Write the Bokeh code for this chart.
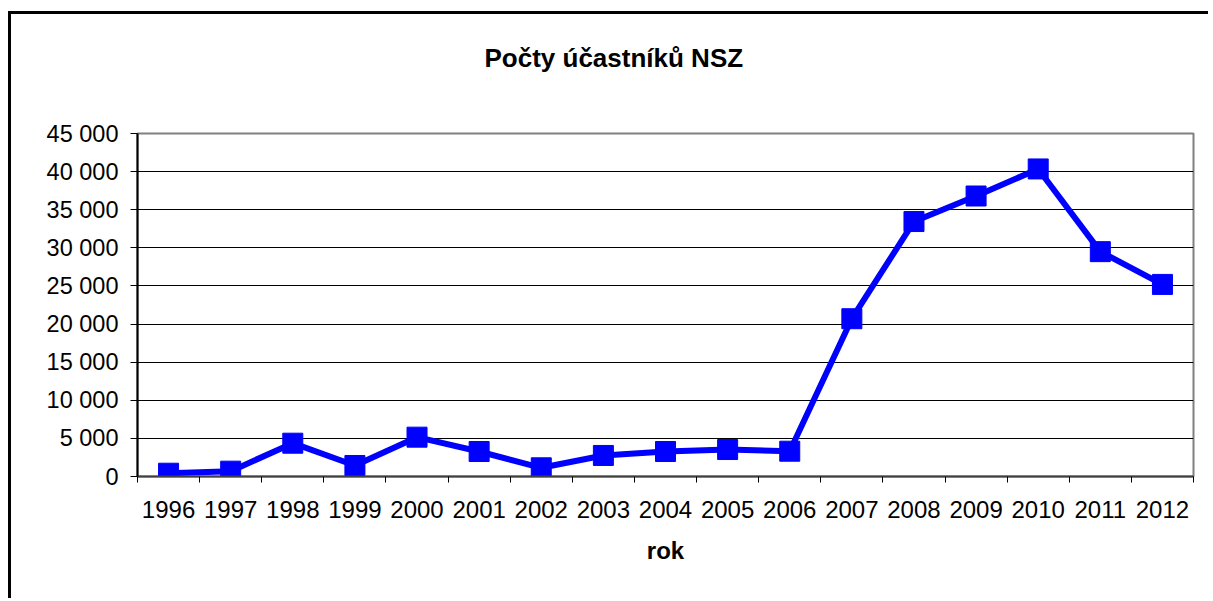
import numpy as np
from bokeh.plotting import figure
from bokeh.models import Range1d, FixedTicker, Title
from bokeh.embed import file_html
from bokeh.resources import INLINE

years = [1996, 1997, 1998, 1999, 2000, 2001, 2002, 2003, 2004, 2005, 2006,
         2007, 2008, 2009, 2010, 2011, 2012]
participants = [430, 700, 4370, 1440, 5160, 3280, 1140, 2760, 3280, 3540, 3320,
                20700, 33450, 36800, 40350, 29500, 25200]
y_ticks = list(range(0, 45001, 5000))
title_text = "Počty účastníků NSZ"
x_title = "rok"

FONT = "Liberation Sans"

n = len(years)
xs = np.arange(n) + 0.5

p = figure(width=1200, height=587, output_backend="svg", toolbar_location=None,
           x_range=Range1d(0, n), y_range=Range1d(0, 45000),
           min_border_left=126, min_border_right=18, min_border_top=119,
           min_border_bottom=125, title=None)
p.styles = {"border-left": "3px solid black", "border-top": "3px solid black",
            "margin-top": "11px", "margin-left": "8px"}

# spacer between the frame and the title (nearest to the frame)
spacer = Title(text=" ", text_font=FONT, text_font_size="10px", standoff=48)
p.add_layout(spacer, "above")

t = Title(text=title_text, align="left", offset=347, standoff=0,
          vertical_align="bottom",
          text_font=FONT, text_font_size="26px", text_font_style="bold",
          text_color="black")
p.add_layout(t, "above")

p.outline_line_color = "#808080"
p.outline_line_width = 2
p.background_fill_color = "white"
p.border_fill_color = "white"

# x axis
p.xaxis.ticker = FixedTicker(ticks=list(xs), minor_ticks=list(range(0, n + 1)))
p.xaxis.major_label_overrides = {float(x): str(y) for x, y in zip(xs, years)}
p.xaxis.major_tick_out = 0
p.xaxis.major_tick_in = 0
p.xaxis.minor_tick_out = 6
p.xaxis.minor_tick_in = 0
p.xaxis.minor_tick_line_color = "black"
p.xaxis.minor_tick_line_width = 1
p.xaxis.axis_line_color = "#404040"
p.xaxis.axis_line_width = 2
p.xaxis.major_label_text_font = FONT
p.xaxis.major_label_text_font_size = "24px"
p.xaxis.major_label_text_color = "black"
p.xaxis.major_label_standoff = 18
p.xaxis.axis_label = x_title
p.xaxis.axis_label_text_font = FONT
p.xaxis.axis_label_text_font_size = "24px"
p.xaxis.axis_label_text_font_style = "bold"
p.xaxis.axis_label_text_color = "black"
p.xaxis.axis_label_standoff = 16

# y axis
p.yaxis.ticker = FixedTicker(ticks=y_ticks)
p.yaxis.major_label_overrides = {v: f"{v:,}".replace(",", " ") for v in y_ticks}
p.yaxis.major_tick_out = 7
p.yaxis.major_tick_in = 0
p.yaxis.major_tick_line_color = "black"
p.yaxis.minor_tick_line_color = None
p.yaxis.axis_line_color = "black"
p.yaxis.axis_line_width = 2
p.yaxis.major_label_text_font = FONT
p.yaxis.major_label_text_font_size = "23.5px"
p.yaxis.major_label_text_color = "black"
p.yaxis.major_label_standoff = 12

p.xgrid.grid_line_color = None
p.ygrid.grid_line_color = "black"
p.ygrid.grid_line_width = 1

p.line(xs, participants, line_color="#0000FF", line_width=6)
p.scatter(xs, participants, marker="square", size=20, fill_color="#0000FF",
          line_color="#0000FF")

open("out.html", "w").write(file_html(p, INLINE))
